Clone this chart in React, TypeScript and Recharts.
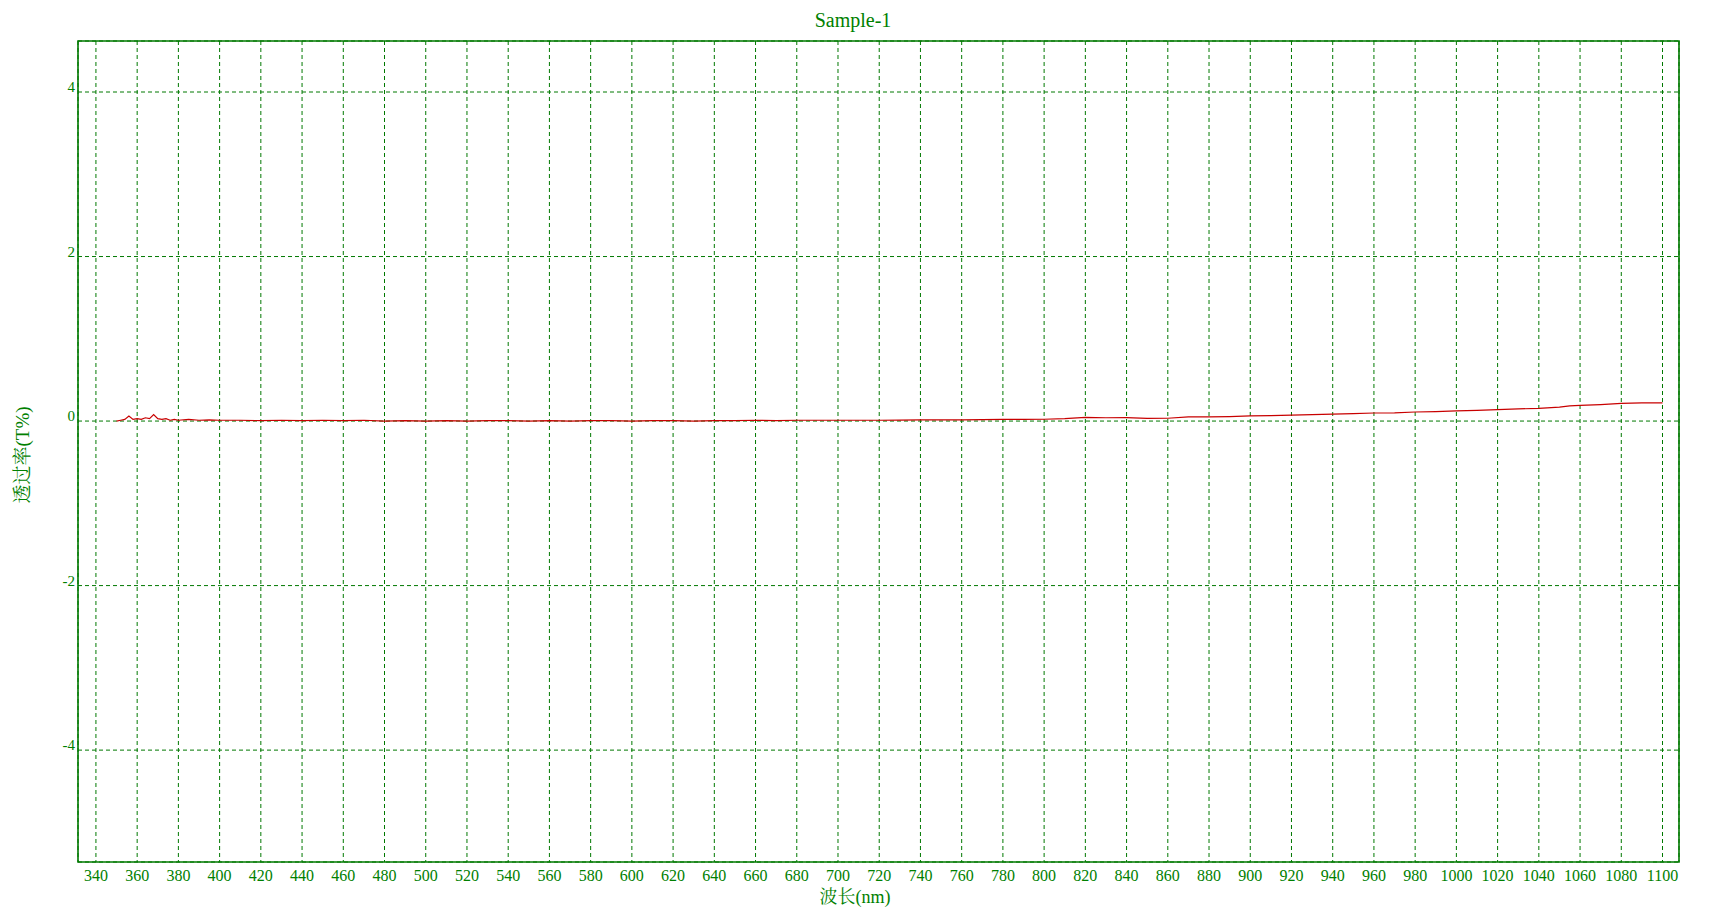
import React from "react";
import {
  LineChart,
  Line,
  XAxis,
  YAxis,
  CartesianGrid,
  ReferenceArea,
  Customized,
} from "recharts";

const GREEN = "#007800";
const TEXT_GREEN = "#008000";
const FONT = "'Times New Roman', 'Liberation Serif', 'Noto Serif CJK SC', 'Noto Sans CJK SC', serif";

const X_DOMAIN: [number, number] = [331.3, 1108];
const Y_DOMAIN: [number, number] = [-5.36, 4.62];

// wavelength (nm) and transmittance (T%)
const wavelengths = [
  350, 352, 354, 356, 358, 360, 362, 364, 366, 368, 370, 372, 374, 376, 378, 380,
  385, 390, 395, 400, 410, 420, 430, 440, 450, 460, 470, 480, 490, 500,
  510, 520, 530, 540, 550, 560, 570, 580, 590, 600, 610, 620, 630, 640, 650,
  660, 670, 680, 690, 700, 710, 720, 730, 740, 750, 760, 770, 780, 790, 800,
  810, 820, 830, 840, 850, 860, 870, 880, 890, 900, 910, 920, 930, 940, 950,
  960, 970, 980, 990, 1000, 1010, 1020, 1030, 1040, 1050, 1055, 1060, 1070,
  1080, 1090, 1100,
];
const transmittance = [
  0.0, 0.01, 0.02, 0.06, 0.02, 0.03, 0.02, 0.04, 0.03, 0.08, 0.03, 0.02, 0.03, 0.01, 0.02, 0.01,
  0.02, 0.01, 0.015, 0.01, 0.01, 0.005, 0.01, 0.005, 0.01, 0.005, 0.01, 0.0, 0.005, 0.0,
  0.005, 0.0, 0.005, 0.005, 0.0, 0.005, 0.0, 0.005, 0.005, 0.0, 0.005, 0.005, 0.0, 0.005, 0.005,
  0.01, 0.005, 0.01, 0.01, 0.01, 0.01, 0.01, 0.012, 0.015, 0.015, 0.015, 0.018, 0.02, 0.02, 0.022,
  0.03, 0.045, 0.04, 0.042, 0.033, 0.034, 0.05, 0.05, 0.055, 0.064, 0.066, 0.073, 0.078, 0.085, 0.09,
  0.098, 0.1, 0.11, 0.115, 0.125, 0.13, 0.14, 0.148, 0.155, 0.17, 0.185, 0.19, 0.2,
  0.215, 0.22, 0.22,
];

const xTicks = [
  340, 360, 380, 400, 420, 440, 460, 480, 500, 520, 540, 560, 580, 600, 620, 640,
  660, 680, 700, 720, 740, 760, 780, 800, 820, 840, 860, 880, 900, 920, 940, 960,
  980, 1000, 1020, 1040, 1060, 1080, 1100,
];
const yTicks = [-4, -2, 0, 2, 4];

const data = wavelengths.map((wl, i) => ({ wl, t: transmittance[i] }));

function XTick({ x, y, payload }: any) {
  return (
    <text x={x} y={y + 19} textAnchor="middle" fill={TEXT_GREEN} fontSize={16} fontFamily={FONT}>
      {payload.value}
    </text>
  );
}

function YTick({ x, y, payload }: any) {
  return (
    <text x={x - 3} y={y} textAnchor="end" fill={TEXT_GREEN} fontSize={15} fontFamily={FONT}>
      {payload.value}
    </text>
  );
}

function Labels() {
  return (
    <g fill={TEXT_GREEN} fontFamily={FONT}>
      <text x={853} y={27} textAnchor="middle" fontSize={20}>
        Sample-1
      </text>
      <text x={855} y={903} textAnchor="middle" fontSize={18}>
        波长(nm)
      </text>
      <text
        x={22}
        y={455}
        textAnchor="middle"
        dominantBaseline="central"
        fontSize={19}
        transform="rotate(-90 22 455)"
      >
        透过率(T%)
      </text>
    </g>
  );
}

export default function App() {
  return (
    <div style={{ position: "absolute", left: 0, top: 0, background: "#fff" }}>
      <LineChart
        width={1709}
        height={913}
        data={data}
        margin={{ top: 41, right: 30, bottom: 0, left: 0 }}
      >
        <CartesianGrid stroke={GREEN} strokeDasharray="4 3" />
        <XAxis
          type="number"
          dataKey="wl"
          domain={X_DOMAIN}
          ticks={xTicks}
          allowDataOverflow
          interval={0}
          height={51}
          tickLine={false}
          tickSize={0}
          tickMargin={0}
          axisLine={false}
          tick={<XTick />}
        />
        <YAxis
          type="number"
          domain={Y_DOMAIN}
          ticks={yTicks}
          allowDataOverflow
          interval={0}
          width={78}
          tickLine={false}
          tickSize={0}
          tickMargin={0}
          axisLine={false}
          tick={<YTick />}
        />
        <ReferenceArea
          x1={X_DOMAIN[0]}
          x2={X_DOMAIN[1]}
          y1={Y_DOMAIN[0]}
          y2={Y_DOMAIN[1]}
          fill="none"
          fillOpacity={0}
          stroke={GREEN}
          strokeWidth={1.6}
          ifOverflow="visible"
        />
        <Line
          type="linear"
          dataKey="t"
          stroke="#c80000"
          strokeWidth={1.2}
          dot={false}
          activeDot={false}
          isAnimationActive={false}
        />
        <Customized component={<Labels />} />
      </LineChart>
    </div>
  );
}
